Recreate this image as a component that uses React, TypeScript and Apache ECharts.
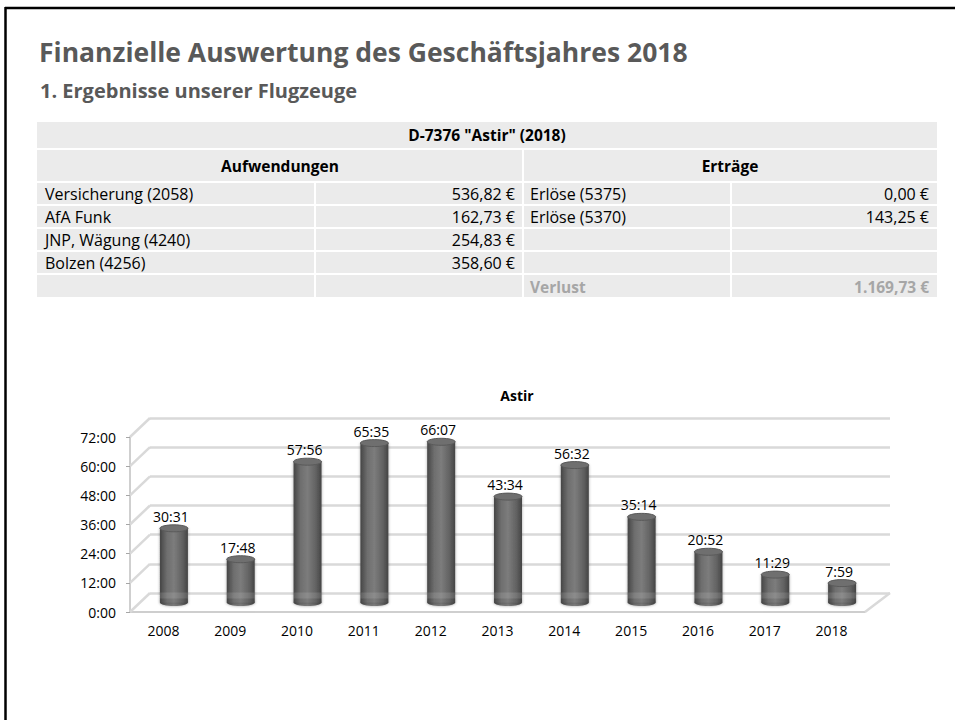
import React, { useEffect, useRef } from "react";
import * as echarts from "echarts";

// ---------- data ----------
const pageTitle = "Finanzielle Auswertung des Geschäftsjahres 2018";
const pageSubtitle = "1. Ergebnisse unserer Flugzeuge";
const tableTitle = 'D-7376 "Astir" (2018)';
const expenseHeader = "Aufwendungen";
const incomeHeader = "Erträge";
const expenseLabels = ["Versicherung (2058)", "AfA Funk", "JNP, Wägung (4240)", "Bolzen (4256)"];
const expenseValues = ["536,82 €", "162,73 €", "254,83 €", "358,60 €"];
const incomeLabels = ["Erlöse (5375)", "Erlöse (5370)"];
const incomeValues = ["0,00 €", "143,25 €"];
const resultLabel = "Verlust";
const resultValue = "1.169,73 €";

const chartTitle = "Astir";
const years = ["2008", "2009", "2010", "2011", "2012", "2013", "2014", "2015", "2016", "2017", "2018"];
const flightTimes = ["30:31", "17:48", "57:56", "65:35", "66:07", "43:34", "56:32", "35:14", "20:52", "11:29", "7:59"];
const yMax = 72;
const yInterval = 12;
const yTicks = [0, 12, 24, 36, 48, 60, 72];

const toHours = (s: string) => {
  const [h, m] = s.split(":").map(Number);
  return h + m / 60;
};

const FONT = "'Open Sans', Lato, sans-serif";

function buildTable(): any[] {
  const els: any[] = [];
  const L = 37, R = 937, MID = 523;
  const colX = [37, 316, 524, 732];
  const colW = [277, 206, 206, 205];
  const bg = "#ebebeb";
  const txt = (text: string, x: number, y: number, align: string, bold = false, fill = "#000") => ({
    type: "text",
    x,
    y,
    style: {
      text,
      fontSize: bold ? 15.5 : 16,
      fontFamily: FONT,
      fontWeight: bold ? "bold" : "normal",
      fill,
      textAlign: align,
      textVerticalAlign: "middle",
    },
  });
  els.push({ type: "rect", shape: { x: L, y: 122, width: R - L, height: 26 }, style: { fill: bg } });
  els.push(txt(tableTitle, (L + R) / 2, 135, "center", true));
  els.push({ type: "rect", shape: { x: L, y: 150, width: MID - 1 - L, height: 31 }, style: { fill: bg } });
  els.push({ type: "rect", shape: { x: MID + 1, y: 150, width: R - MID - 1, height: 31 }, style: { fill: bg } });
  els.push(txt(expenseHeader, (L + MID) / 2, 166, "center", true));
  els.push(txt(incomeHeader, (MID + R) / 2, 166, "center", true));
  for (let r = 0; r < 5; r++) {
    const top = 183 + r * 23;
    const h = r === 4 ? 22 : 21;
    for (let c = 0; c < 4; c++) {
      els.push({ type: "rect", shape: { x: colX[c], y: top, width: colW[c], height: h }, style: { fill: bg } });
    }
    const cy = top + h / 2 + 0.5;
    if (r < expenseLabels.length) {
      els.push(txt(expenseLabels[r], 45, cy, "left"));
      els.push(txt(expenseValues[r], 515, cy, "right"));
    }
    if (r < incomeLabels.length) {
      els.push(txt(incomeLabels[r], 530, cy, "left"));
      els.push(txt(incomeValues[r], 929, cy, "right"));
    }
    if (r === 4) {
      els.push(txt(resultLabel, 530, cy, "left", true, "#a6a6a6"));
      els.push(txt(resultValue, 929, cy, "right", true, "#a6a6a6"));
    }
  }
  return els;
}

export default function App() {
  const ref = useRef<HTMLDivElement>(null);

  useEffect(() => {
    if (!ref.current) return;
    const chart = echarts.init(ref.current, null, { renderer: "svg" });

    const gridColor = "#d9d9d9";
    const barData = years.map((y, i) => [i, toHours(flightTimes[i])]);

    const option: any = {
      animation: false,
      backgroundColor: "#ffffff",
      grid: [
        { left: 130, top: 437, width: 735, height: 175 },
        { left: 150, top: 418, width: 740, height: 175 },
      ],
      xAxis: [
        {
          gridIndex: 0,
          type: "category",
          data: years,
          axisLine: { lineStyle: { color: "#bfbfbf", width: 1.5 } },
          axisTick: { length: 5, lineStyle: { color: "#a6a6a6" } },
          axisLabel: { fontSize: 14, color: "#000", margin: 11, fontFamily: FONT },
          splitLine: { show: false },
        },
        { gridIndex: 1, type: "category", data: years, show: false },
      ],
      yAxis: [
        {
          gridIndex: 0,
          type: "value",
          min: 0,
          max: yMax,
          interval: yInterval,
          axisLine: { show: true, lineStyle: { color: "#bfbfbf", width: 1.5 } },
          axisTick: { show: true, length: 4, lineStyle: { color: "#a6a6a6" } },
          axisLabel: { fontSize: 14, color: "#000", margin: 14, fontFamily: FONT, formatter: (v: number) => `${v}:00` },
          splitLine: { show: false },
        },
        {
          gridIndex: 1,
          type: "value",
          min: 0,
          max: yMax,
          interval: yInterval,
          axisLine: { show: false },
          axisTick: { show: false },
          axisLabel: { show: false },
          splitLine: { show: true, lineStyle: { color: gridColor, width: 2.5 } },
        },
      ],
      graphic: [
        { type: "line", shape: { x1: 5, y1: 8, x2: 955, y2: 8 }, style: { stroke: "#000", lineWidth: 2.5 } },
        { type: "line", shape: { x1: 5.5, y1: 7, x2: 5.5, y2: 720 }, style: { stroke: "#000", lineWidth: 2.5 } },
        {
          type: "text",
          x: 39,
          y: 65,
          style: { text: pageTitle, fontSize: 26.5, fontWeight: "bold", fontFamily: FONT, fill: "#595959", textVerticalAlign: "bottom" },
        },
        {
          type: "text",
          x: 40,
          y: 100,
          style: { text: pageSubtitle, fontSize: 20, fontWeight: "bold", fontFamily: FONT, fill: "#595959", textVerticalAlign: "bottom" },
        },
        ...buildTable(),
        {
          type: "text",
          x: 517,
          y: 395,
          style: { text: chartTitle, fontSize: 14, fontWeight: "bold", fontFamily: FONT, fill: "#000", textAlign: "center", textVerticalAlign: "middle" },
        },
      ],
      series: [
        {
          type: "custom",
          name: "walls",
          xAxisIndex: 0,
          yAxisIndex: 0,
          silent: true,
          z: 1,
          data: yTicks.map((v) => [0, v]),
          renderItem: (params: any, api: any) => {
            const cs = params.coordSys;
            const v = api.value(1);
            const y = api.coord([0, v])[1];
            const children: any[] = [
              { type: "line", shape: { x1: cs.x, y1: y, x2: cs.x + 20, y2: y - 19 }, style: { stroke: gridColor, lineWidth: 2.5 } },
            ];
            if (v === 0) {
              children.push({
                type: "line",
                shape: { x1: cs.x + cs.width, y1: y, x2: cs.x + cs.width + 25, y2: y - 19 },
                style: { stroke: gridColor, lineWidth: 2.5 },
              });
            }
            return { type: "group", children };
          },
        },
        {
          type: "custom",
          name: "bars",
          xAxisIndex: 0,
          yAxisIndex: 0,
          z: 3,
          data: barData,
          renderItem: (params: any, api: any) => {
            const idx = api.value(0);
            const val = api.value(1);
            const label = flightTimes[idx];
            const top = api.coord([idx, val]);
            const base = api.coord([idx, 0]);
            const cx = top[0] + 10.5;
            const ty = top[1] - 9.5;
            const by = base[1] - 9.5;
            const w = 28;
            const ry = 3.5;
            const grad = new echarts.graphic.LinearGradient(0, 0, 1, 0, [
              { offset: 0, color: "#454545" },
              { offset: 0.25, color: "#6e6e6e" },
              { offset: 0.5, color: "#7c7c7c" },
              { offset: 0.8, color: "#626262" },
              { offset: 1, color: "#444444" },
            ]);
            return {
              type: "group",
              children: [
                {
                  type: "ellipse",
                  shape: { cx, cy: by, rx: w / 2, ry },
                  style: { fill: grad, shadowBlur: 3, shadowColor: "rgba(0,0,0,0.35)" },
                },
                {
                  type: "rect",
                  shape: { x: cx - w / 2, y: ty, width: w, height: by - ty },
                  style: { fill: grad, shadowBlur: 3, shadowColor: "rgba(0,0,0,0.35)" },
                },
                {
                  type: "ellipse",
                  shape: { cx, cy: ty, rx: w / 2, ry },
                  style: { fill: "#6f6f6f", stroke: "#5a5a5a", lineWidth: 1 },
                },
                {
                  type: "rect",
                  shape: { x: cx - w / 2, y: by - 10, width: w, height: 6 },
                  style: { fill: "rgba(255,255,255,0.12)" },
                },
                {
                  type: "text",
                  x: cx - 3,
                  y: ty - 5,
                  style: {
                    text: label,
                    fontSize: 14,
                    fontFamily: FONT,
                    fill: "#000",
                    textAlign: "center",
                    textVerticalAlign: "bottom",
                  },
                },
              ],
            };
          },
        },
      ],
    };

    chart.setOption(option);
    return () => chart.dispose();
  }, []);

  return (
    <div
      ref={ref}
      style={{ position: "fixed", left: 0, top: 0, width: 955, height: 720, background: "#fff" }}
    />
  );
}
